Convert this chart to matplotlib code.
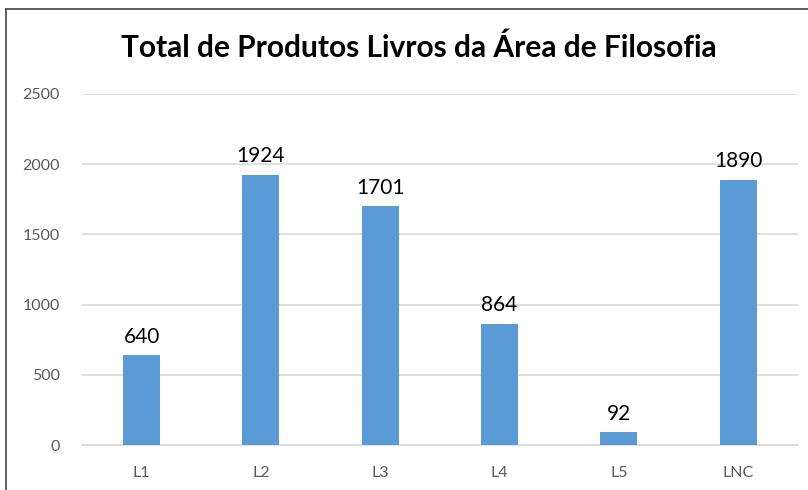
import matplotlib.pyplot as plt
from matplotlib.lines import Line2D

plt.rcParams['font.family'] = ['Lato', 'DejaVu Sans']

# Data
categories = ['L1', 'L2', 'L3', 'L4', 'L5', 'LNC']
totals = [640, 1924, 1701, 864, 92, 1890]

fig = plt.figure(figsize=(8.08, 4.90), dpi=100)
ax = fig.add_axes([0.1015, 0.0918, 0.886, 0.7164])

bars = ax.bar(categories, totals, width=0.31, color='#5b9bd5', zorder=3)
for b, v in zip(bars, totals):
    ax.text(b.get_x() + b.get_width() / 2, v + 60, str(v),
            ha='center', va='bottom', fontsize=15, color='black')

ax.set_ylim(0, 2500)
ax.set_xlim(-0.5, len(categories) - 0.5)
ax.set_yticks(range(0, 2501, 500))
ax.yaxis.grid(True, color='#d9d9d9', linewidth=1.2, zorder=0)
for s in ax.spines.values():
    s.set_visible(False)
ax.spines['bottom'].set_visible(True)
ax.spines['bottom'].set_color('#d9d9d9')
ax.spines['bottom'].set_linewidth(1.2)
ax.tick_params(axis='both', length=0, labelsize=11.5, colors='#595959')
ax.tick_params(axis='x', pad=15)
ax.tick_params(axis='y', pad=16)

fig.text(0.518, 0.902, 'Total de Produtos Livros da Área de Filosofia',
         ha='center', va='center', fontsize=21.5, fontweight='bold', color='black')

# chart frame (left and top edges visible)
fig.add_artist(Line2D([5.5 / 808, 5.5 / 808], [0, 1 - 9 / 490], color='#444444', lw=1.2))
fig.add_artist(Line2D([5.5 / 808, 1], [1 - 9 / 490, 1 - 9 / 490], color='#444444', lw=1.2))

fig.savefig('out.png', dpi=100)
